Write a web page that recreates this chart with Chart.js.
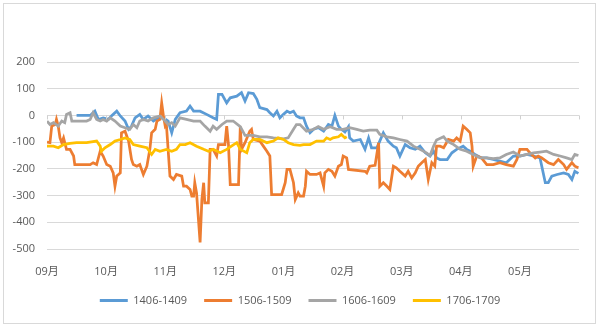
<!DOCTYPE html>
<html>
<head>
<meta charset="utf-8">
<script src="https://cdn.jsdelivr.net/npm/chart.js@4.4.1/dist/chart.umd.min.js"></script>
<style>
  body { margin: 0; background: #fff; }
  #wrap { position: relative; width: 600px; height: 326px; }
  #frame { position: absolute; left: 3px; top: 3px; width: 591px; height: 319px; border: 1px solid #d9d9d9; pointer-events: none; }
</style>
</head>
<body>
<div id="wrap">
  <canvas id="spread" width="600" height="326"></canvas>
  <div id="frame"></div>
</div>
<script>
// x values are months since the start of September (0 = 09月, 9 = end of 05月)
const monthLabels = ['09月', '10月', '11月', '12月', '01月', '02月', '03月', '04月', '05月'];
const seriesNames = ['1406-1409', '1506-1509', '1606-1609', '1706-1709'];

const x1406 = [0.50,0.73,0.81,0.87,0.95,1.04,1.09,1.18,1.24,1.32,1.38,1.43,1.49,1.57,1.63,1.71,1.80,1.88,1.97,2.05,
  2.11,2.17,2.25,2.36,2.42,2.48,2.59,2.70,2.81,2.87,2.90,2.96,3.04,3.10,3.21,3.29,3.35,3.41,3.49,3.55,
  3.60,3.72,3.77,3.83,3.89,3.94,4.00,4.06,4.11,4.17,4.22,4.28,4.34,4.39,4.45,4.51,4.59,4.68,4.76,4.82,
  4.87,4.93,4.98,5.04,5.10,5.12,5.18,5.30,5.38,5.44,5.49,5.58,5.63,5.69,5.77,5.86,5.91,5.97,6.06,6.14,
  6.23,6.31,6.40,6.48,6.54,6.59,6.65,6.77,6.85,6.93,7.04,7.10,7.16,7.24,7.35,7.44,7.55,7.66,7.77,7.89,
  8.00,8.12,8.23,8.34,8.43,8.48,8.54,8.63,8.74,8.82,8.88,8.93,8.99];
const y1406 = [0,0,16,-15,-9,-15,-2,16,-2,-21,-52,-40,-9,4,-15,-2,-21,-9,-9,-21,
  -65,-15,10,16,35,16,16,4,-9,-15,79,79,47,66,72,85,54,85,82,60,
  29,22,10,-2,16,-9,4,16,10,16,-2,-9,-9,-40,-65,-52,-46,-59,-34,-40,
  0,-40,-52,-62,-42,-84,-96,-90,-127,-84,-121,-121,-96,-65,-96,-115,-121,-152,-109,-121,
  -127,-115,-140,-152,-134,-159,-165,-165,-140,-127,-115,-127,-134,-146,-159,-159,-165,-171,-177,-152,
  -152,-146,-152,-159,-252,-252,-227,-221,-215,-221,-240,-209,-217];

const x1506 = [0.00,0.05,0.08,0.14,0.16,0.19,0.22,0.25,0.28,0.30,0.33,0.39,0.45,0.47,0.73,0.78,0.84,0.90,0.95,1.01,
  1.07,1.12,1.15,1.18,1.21,1.24,1.26,1.32,1.38,1.43,1.46,1.52,1.57,1.63,1.69,1.74,1.77,1.83,1.86,1.91,
  1.94,1.97,2.00,2.02,2.08,2.14,2.19,2.28,2.31,2.36,2.42,2.45,2.48,2.50,2.53,2.59,2.62,2.65,2.67,2.73,
  2.76,2.81,2.87,2.90,3.01,3.04,3.07,3.10,3.24,3.27,3.29,3.35,3.43,3.46,3.49,3.60,3.66,3.72,3.77,3.80,
  3.97,4.03,4.06,4.11,4.17,4.20,4.25,4.28,
  4.34,4.37,4.39,4.45,4.56,4.62,4.68,4.70,4.76,4.82,4.87,4.93,4.98,5.01,5.07,5.10,5.38,5.41,5.46,5.55,
  5.61,5.63,5.69,5.75,5.80,5.86,5.91,5.97,6.06,6.11,6.17,6.23,6.28,6.34,6.40,6.45,6.51,6.56,6.59,6.65,
  6.71,6.79,6.88,6.93,6.99,7.04,7.10,7.16,7.19,7.21,7.27,7.35,7.44,7.55,7.66,7.77,7.89,7.95,8.00,8.12,
  8.17,8.26,8.31,8.37,8.48,8.57,8.65,8.74,8.79,8.88,8.93,8.99];
const y1506 = [-100,-102,-40,-34,-15,-40,-84,-102,-84,-102,-127,-127,-152,-184,-184,-177,-184,-134,-152,-184,
  -190,-215,-265,-227,-221,-215,-65,-59,-96,-165,-184,-190,-184,-221,-190,-127,-65,-52,-21,-15,
  47,-2,-40,-34,-227,-240,-221,-227,-265,-265,-277,-302,-302,-252,-290,-475,-315,-252,-327,-327,
  -127,-127,-152,-109,-109,-40,-109,-259,-259,-42,-127,-102,-59,-52,-90,-96,-115,-134,-152,-296,
  -296,-252,-202,-202,-252,-315,-290,-302,
  -302,-265,-209,-221,-221,-215,-265,-215,-202,-209,-227,-190,-184,-152,-159,-202,-209,-215,-190,-187,
  -102,-265,-252,-265,-277,-190,-196,-209,-227,-209,-234,-215,-190,-177,-165,-240,-177,-190,-115,-115,
  -121,-90,-96,-84,-96,-40,-52,-65,-115,-190,-152,-159,-184,-184,-177,-184,-190,-165,-127,-127,
  -140,-159,-152,-159,-177,-184,-165,-184,-202,-177,-190,-196];

const x1606 = [0.00,0.05,0.11,0.19,0.25,0.30,0.33,0.39,0.42,0.67,0.73,0.78,0.84,0.90,0.95,1.01,1.07,1.15,1.24,1.32,
  1.40,1.46,1.52,1.57,1.63,1.71,1.80,1.91,2.00,2.05,2.11,2.17,2.25,2.36,2.48,2.59,2.67,2.76,2.81,2.87,
  2.96,3.04,3.15,3.27,3.35,3.49,3.60,3.72,3.83,4.00,4.08,4.17,4.22,4.28,4.39,4.51,4.59,4.68,4.79,4.90,
  5.01,5.12,5.24,5.35,5.46,5.58,5.63,5.75,5.86,5.97,6.09,6.20,6.31,6.42,6.48,6.54,6.59,6.71,6.77,6.88,
  6.99,7.10,7.21,7.33,7.44,7.55,7.66,7.77,7.89,8.00,8.12,8.23,8.34,8.45,8.57,8.68,8.79,8.88,8.93,8.99];
const y1606 = [-21,-34,-27,-40,-21,-27,4,10,-21,-21,-15,10,-15,-21,-15,-21,-9,-21,-40,-46,
  -52,-34,-46,-21,-15,-21,-9,-2,-21,-34,-27,-40,-9,-15,-21,-21,-40,-59,-40,-52,
  -34,-21,-21,-42,-75,-75,-80,-80,-84,-88,-84,-52,-34,-34,-59,-52,-42,-52,-42,-52,
  -52,-46,-52,-59,-55,-55,-71,-80,-84,-90,-96,-115,-127,-140,-150,-115,-92,-80,-96,-109,
  -127,-134,-146,-159,-159,-162,-159,-146,-137,-152,-146,-140,-137,-134,-146,-152,-159,-165,-146,-150];

const x1706 = [0.00,0.11,0.19,0.28,0.39,0.50,0.67,0.84,0.90,0.92,0.98,1.07,1.15,1.24,1.32,1.40,1.46,1.57,1.69,1.77,
  1.83,1.91,2.02,2.11,2.19,2.25,2.34,2.42,2.53,2.65,2.73,2.81,2.93,3.04,3.12,3.21,3.27,3.38,3.43,3.49,
  3.60,3.72,3.83,3.91,4.00,4.08,4.17,4.28,4.34,4.45,4.56,4.68,4.73,4.79,4.84,4.93,4.98,5.04,5.07];
const y1706 = [-115,-115,-121,-109,-105,-102,-102,-96,-115,-134,-121,-109,-96,-90,-84,-90,-109,-115,-121,-146,
  -127,-134,-127,-134,-127,-109,-109,-102,-115,-127,-134,-127,-140,-127,-115,-102,-127,-140,-102,-90,
  -90,-102,-96,-84,-90,-102,-109,-112,-109,-109,-96,-96,-84,-90,-84,-80,-71,-84,-80];

const colors = ['#5B9BD5', '#ED7D31', '#A5A5A5', '#FFC000'];
const xs = [x1406, x1506, x1606, x1706];
const ys = [y1406, y1506, y1606, y1706];

const textColor = '#595959';
const fontFamily = '"Open Sans", "Noto Sans CJK SC", sans-serif';

const datasets = seriesNames.map((name, i) => ({
  label: name,
  data: xs[i].map((x, j) => ({ x: x, y: ys[i][j] })),
  borderColor: colors[i],
  backgroundColor: colors[i],
  borderWidth: 2.75,
  pointRadius: 0,
  tension: 0,
  order: seriesNames.length - i  // later series on top
}));

// short tick marks hanging from the zero line at each month start
const monthTicks = {
  id: 'monthTicks',
  afterDatasetsDraw(chart) {
    const { ctx, scales: { x, y } } = chart;
    const y0 = y.getPixelForValue(0);
    ctx.save();
    ctx.strokeStyle = '#d0d0d0';
    ctx.lineWidth = 1;
    for (let m = 0; m <= monthLabels.length; m++) {
      const px = Math.round(x.getPixelForValue(m)) + 0.5;
      ctx.beginPath();
      ctx.moveTo(px, y0);
      ctx.lineTo(px, y0 + 4);
      ctx.stroke();
    }
    ctx.restore();
  }
};

new Chart(document.getElementById('spread'), {
  type: 'line',
  data: { datasets },
  plugins: [monthTicks],
  options: {
    responsive: false,
    animation: false,
    devicePixelRatio: 1,
    layout: { padding: { left: 0, right: 0, top: 62, bottom: 10 } },
    font: { family: fontFamily, size: 11 },
    scales: {
      x: {
        type: 'linear',
        min: 0,
        max: 9,
        grid: { display: false },
        border: { display: false },
        ticks: {
          stepSize: 1,
          autoSkip: false,
          maxRotation: 0,
          padding: 8,
          color: textColor,
          font: { family: fontFamily, size: 11 },
          callback: (v) => monthLabels[v] || ''
        },
        afterFit: (scale) => { scale.height = 29; }
      },
      y: {
        min: -500,
        max: 200,
        grid: { color: '#d9d9d9', lineWidth: 1, drawTicks: false },
        border: { display: false },
        ticks: {
          stepSize: 100,
          padding: 12,
          color: textColor,
          font: { family: fontFamily, size: 11 }
        },
        afterFit: (scale) => { scale.width = 47; }
      },
      yRight: {
        position: 'right',
        display: true,
        grid: { display: false },
        border: { display: false },
        ticks: { display: false },
        afterFit: (scale) => { scale.width = 21; }
      }
    },
    plugins: {
      legend: {
        position: 'bottom',
        labels: {
          boxWidth: 28,
          boxHeight: 3,
          padding: 17,
          color: textColor,
          font: { family: fontFamily, size: 11 },
          sort: (a, b) => a.datasetIndex - b.datasetIndex,
          generateLabels: (chart) => Chart.defaults.plugins.legend.labels.generateLabels(chart)
            .map((item) => Object.assign(item, { lineWidth: 0, fillStyle: item.strokeStyle }))
        }
      },
      tooltip: { enabled: false }
    }
  }
});
</script>
</body>
</html>
